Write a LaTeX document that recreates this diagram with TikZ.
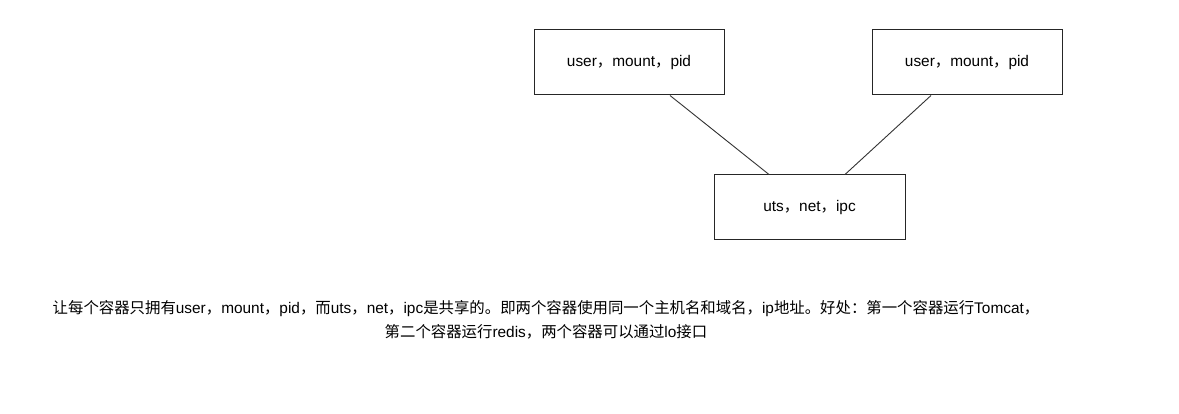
\documentclass[tikz,border=0pt]{standalone}
\usepackage{fontspec}
\setmainfont{Liberation Sans}
\newfontfamily\cjkfont{Noto Sans CJK SC}
\newcommand{\C}[1]{{\cjkfont #1}}
\begin{document}
\begin{tikzpicture}[x=1pt,y=1pt,
  nsbox/.style={draw=black!85, line width=1pt, minimum width=190pt, minimum height=65pt, inner sep=0pt, font=\fontsize{15.4}{18}\selectfont},
  link/.style={draw=black!80, line width=0.9pt}]
\useasboundingbox[fill=white] (0,0) rectangle (1179,-414);
\node[nsbox] (L) at (629,-62.5) {user\C{，}mount\C{，}pid};
\node[nsbox] (R) at (967,-62.5) {user\C{，}mount\C{，}pid};
\node[nsbox, minimum width=191pt] (B) at (809.5,-207.5) {uts\C{，}net\C{，}ipc};
\draw[link] ([xshift=41pt]L.south) -- ([xshift=-40.5pt]B.north);
\draw[link] ([xshift=-36pt]R.south) -- ([xshift=35.5pt]B.north);
\node[align=center, inner sep=0pt, font=\fontsize{15.4}{24}\selectfont] (T) at (546,-319.5)
{\C{让每个容器只拥有}user\C{，}mount\C{，}pid\C{，而}uts\C{，}net\C{，}ipc\C{是共享的。即两个容器使用同一个主机名和域名，}ip\C{地址。好处：第一个容器运行}Tomcat\C{，}\\
\C{第二个容器运行}redis\C{，两个容器可以通过}lo\C{接口}};
\end{tikzpicture}
\end{document}
